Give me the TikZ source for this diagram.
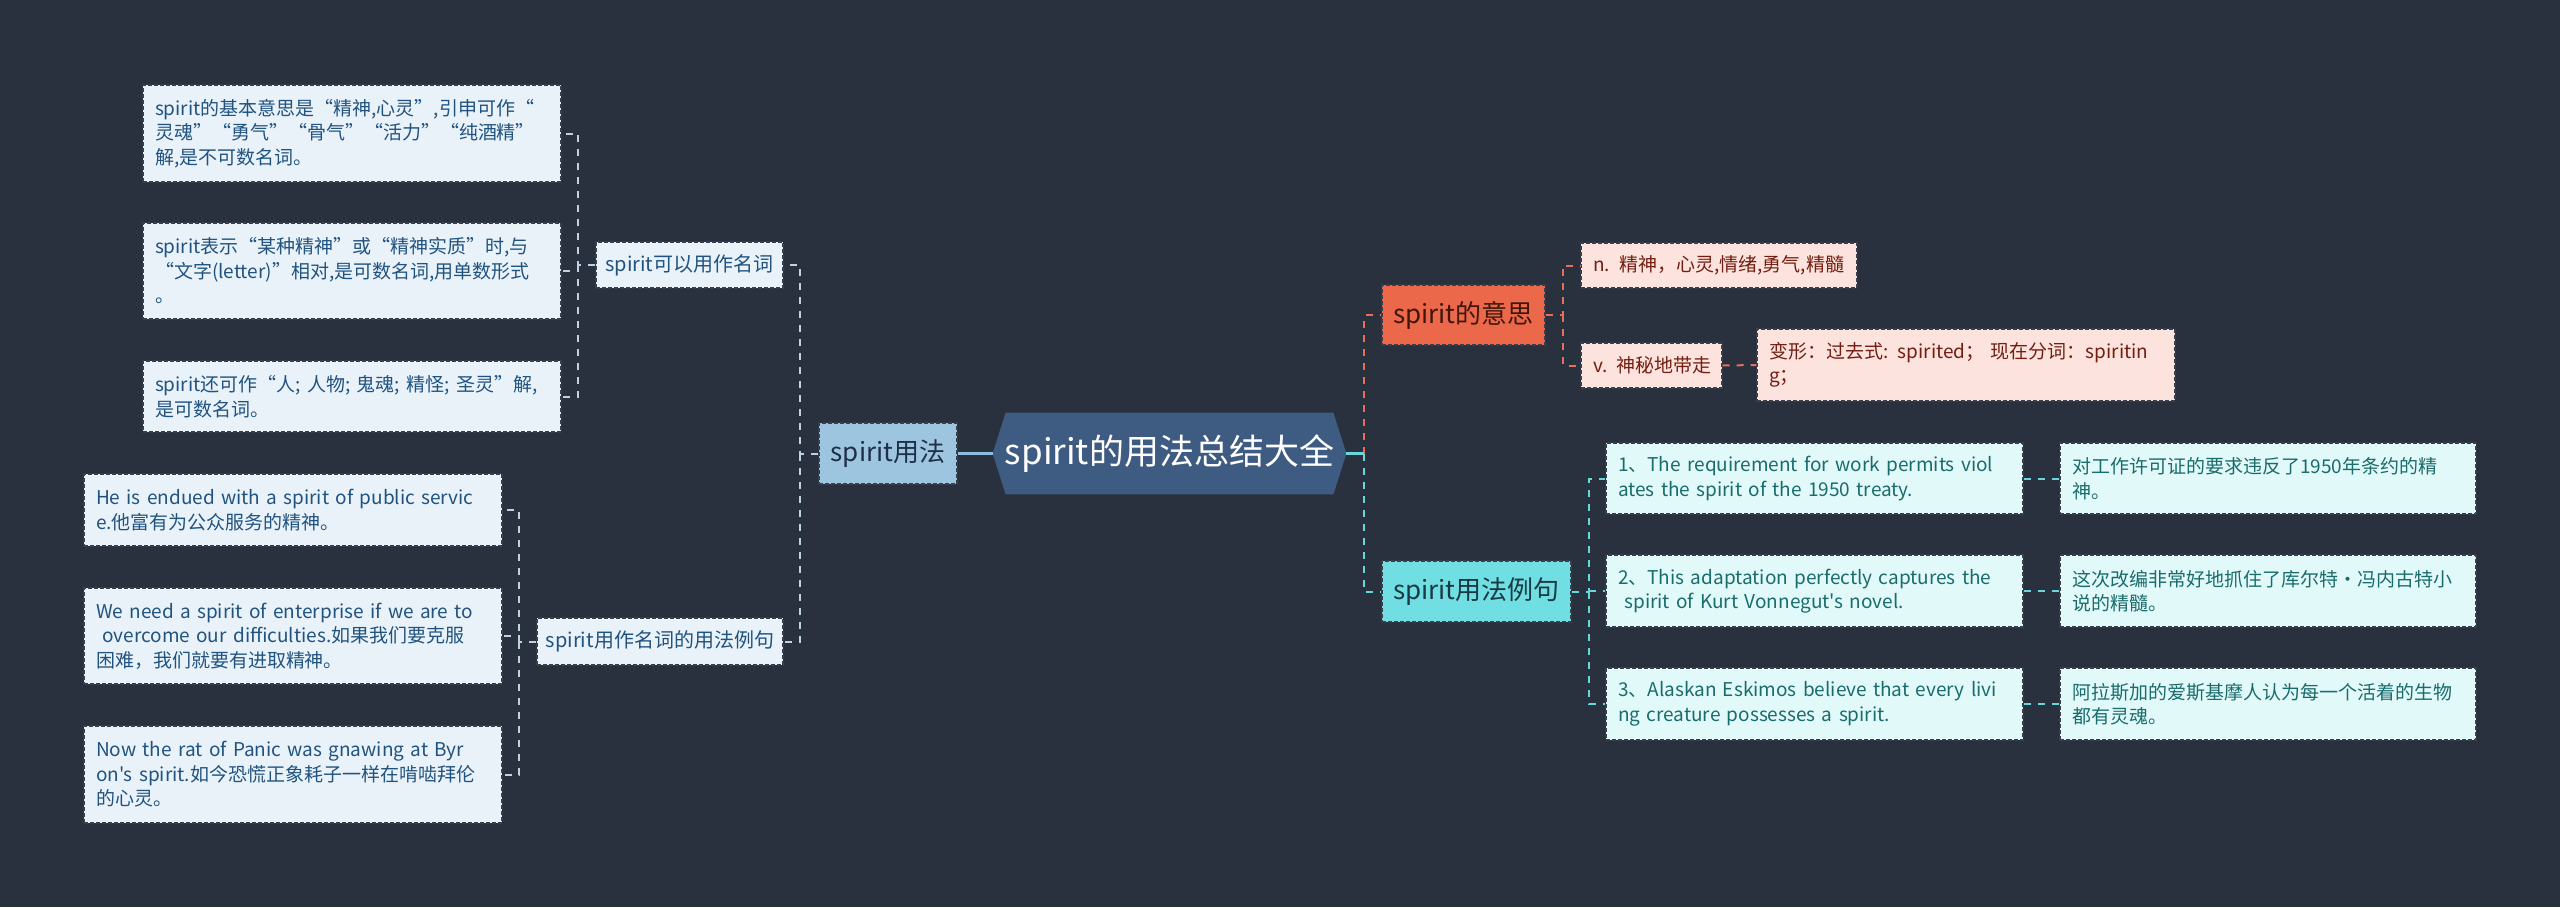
\documentclass[tikz,border=0pt]{standalone}
\usepackage{fontspec}
\setmainfont{Noto Sans CJK SC}[Ligatures=TeXOff]
\usetikzlibrary{calc}
\pgfdeclarelayer{bglayer}
\pgfsetlayers{bglayer,main}
\definecolor{bgc}{RGB}{41,48,62}
\definecolor{hexc}{RGB}{62,91,130}
\definecolor{ufill}{RGB}{158,197,224}
\definecolor{utext}{RGB}{30,48,72}
\definecolor{lfill}{RGB}{233,242,249}
\definecolor{ltext}{RGB}{33,83,128}
\definecolor{lconn}{RGB}{190,210,228}
\definecolor{bord}{RGB}{55,62,76}
\definecolor{ofill}{RGB}{236,104,74}
\definecolor{otext}{RGB}{64,22,12}
\definecolor{olfill}{RGB}{253,227,221}
\definecolor{oltext}{RGB}{115,30,18}
\definecolor{oconn}{RGB}{232,110,85}
\definecolor{cfill}{RGB}{112,222,226}
\definecolor{ctext}{RGB}{24,58,66}
\definecolor{clfill}{RGB}{226,249,249}
\definecolor{cltext}{RGB}{26,108,108}
\definecolor{cconn}{RGB}{105,214,218}
\definecolor{uconn}{RGB}{140,188,222}
\newcommand\leaffont{\fontsize{9.5}{12.25}\selectfont}
\newcommand\midfont{\fontsize{10}{12}\selectfont}
\newcommand\lvlfont{\fontsize{13}{15}\selectfont}
\newcommand\cenfont{\fontsize{17.5}{20}\selectfont}
\begin{document}
\begin{tikzpicture}[x=0.5pt,y=-0.5pt,
  box/.style={draw=bord, line width=0.6pt, dash pattern=on 2pt off 1pt, inner sep=0pt},
  leaf/.style={box, inner xsep=6pt, align=left, font=\leaffont},
  lleaf/.style={leaf, fill=lfill, text=ltext},
  oleaf/.style={leaf, fill=olfill, text=oltext},
  cleaf/.style={leaf, fill=clfill, text=cltext},
  mid/.style={box, fill=lfill, text=ltext, font=\midfont, align=center},
  lvl/.style={box, font=\lvlfont, align=center},
  conn/.style={line width=1pt, dash pattern=on 3.5pt off 3.5pt}]
\begin{pgfonlayer}{bglayer}
\fill[bgc] (0,0) rectangle (2560,907);
\end{pgfonlayer}
\useasboundingbox (0,0) rectangle (2560,907);

% bus coordinates
\coordinate (bL1) at (578,0);
\coordinate (bL2) at (519,0);
\coordinate (bU) at (800,0);
\coordinate (bR) at (1364,0);
\coordinate (bR1) at (1563,0);
\coordinate (bR2) at (1589,0);

% central
\node[minimum width=176.5pt, minimum height=40.5pt, inner sep=0pt, text=white, font=\cenfont] (C) at (1169.5,453.5) {spirit的用法总结大全};
\begin{pgfonlayer}{bglayer}
\fill[hexc] (C.west) -- ($(C.north west)+(13,0)$) -- ($(C.north east)+(-13,0)$) -- (C.east) -- ($(C.south east)+(-13,0)$) -- ($(C.south west)+(13,0)$) -- cycle;
\end{pgfonlayer}

% left branch
\node[lvl, fill=ufill, text=utext, minimum width=69pt, minimum height=30.5pt] (U) at (888,453.5) {spirit用法};
\node[mid, minimum width=93.5pt, minimum height=23pt] (M1) at (689.5,265) {spirit可以用作名词};
\node[mid, minimum width=123pt, minimum height=23.5pt] (M2) at (660,641.5) {spirit用作名词的用法例句};

\node[lleaf, text width=197pt, minimum height=48.5pt] (L1) at (352,133.5) {spirit的基本意思是“精神,心灵”,引申可作“\\灵魂”“勇气”“骨气”“活力”“纯酒精”\\解,是不可数名词。};
\node[lleaf, text width=197pt, minimum height=48pt] (L2) at (352,271) {spirit表示“某种精神”或“精神实质”时,与\\“文字(letter)”相对,是可数名词,用单数形式\\。};
\node[lleaf, text width=197pt, minimum height=35.5pt] (L3) at (352,396.5) {spirit还可作“人; 人物; 鬼魂; 精怪; 圣灵”解,\\是可数名词。};
\node[lleaf, text width=197pt, minimum height=36pt] (L4) at (293,510) {He is endued with a spirit of public servic\\e.他富有为公众服务的精神。};
\node[lleaf, text width=197pt, minimum height=48pt] (L5) at (293,636) {We need a spirit of enterprise if we are to\\\mbox{\ overcome our difficulties.如果我们要克服}\\困难，我们就要有进取精神。};
\node[lleaf, text width=197pt, minimum height=48.5pt] (L6) at (293,774.5) {Now the rat of Panic was gnawing at Byr\\on's spirit.如今恐慌正象耗子一样在啃啮拜伦\\的心灵。};

% right branch
\node[lvl, fill=ofill, text=otext, minimum width=81.5pt, minimum height=30pt] (R1) at (1463.5,315) {spirit的意思};
\node[oleaf, text width=126pt, minimum height=22.5pt] (R1a) at (1719,265.5) {\mbox{n. 精神，心灵,情绪,勇气,精髓}};
\node[oleaf, text width=58.5pt, minimum height=22.5pt] (R1b) at (1651.5,365.5) {\mbox{v. 神秘地带走}};
\node[oleaf, text width=197pt, minimum height=36pt] (R1c) at (1966,365) {变形：过去式: spirited； 现在分词：spiritin\\g；};

\node[lvl, fill=cfill, text=ctext, minimum width=94.5pt, minimum height=30.5pt] (R2) at (1476.5,591.5) {spirit用法例句};
\node[cleaf, text width=196.5pt, minimum height=35.5pt] (E1) at (1814.5,478.5) {1、The requirement for work permits viol\\ates the spirit of the 1950 treaty.};
\node[cleaf, text width=196pt, minimum height=35.5pt] (K1) at (2268,478.5) {对工作许可证的要求违反了1950年条约的精\\神。};
\node[cleaf, text width=196.5pt, minimum height=36pt] (E2) at (1814.5,591) {2、This adaptation perfectly captures the\\\mbox{\ spirit of Kurt Vonnegut's novel.}};
\node[cleaf, text width=196pt, minimum height=36pt] (K2) at (2268,591) {这次改编非常好地抓住了库尔特·冯内古特小\\说的精髓。};
\node[cleaf, text width=196.5pt, minimum height=36pt] (E3) at (1814.5,704) {3、Alaskan Eskimos believe that every livi\\ng creature possesses a spirit.};
\node[cleaf, text width=196pt, minimum height=36pt] (K3) at (2268,704) {阿拉斯加的爱斯基摩人认为每一个活着的生物\\都有灵魂。};

% connectors left
\draw[uconn, line width=1.3pt] (C.west) -- (U.east);
\draw[conn, lconn] (U.west) -- (U.west -| bU) |- (M1.east);
\draw[conn, lconn] (U.west -| bU) |- (M2.east);
\draw[conn, lconn] (M1.west) -- (M1.west -| bL1) |- (L1.east);
\draw[conn, lconn] (M1.west -| bL1) |- (L2.east);
\draw[conn, lconn] (M1.west -| bL1) |- (L3.east);
\draw[conn, lconn] (M2.west) -- (M2.west -| bL2) |- (L4.east);
\draw[conn, lconn] (M2.west -| bL2) |- (L5.east);
\draw[conn, lconn] (M2.west -| bL2) |- (L6.east);

% connectors right
\draw[conn, oconn] (C.east -| bR) |- (R1.west);
\draw[conn, cconn] (C.east -| bR) |- (R2.west);
\draw[cconn, line width=1.3pt] (C.east) -- (C.east -| bR);
\draw[conn, oconn] (R1.east) -- (R1.east -| bR1) |- (R1a.west);
\draw[conn, oconn] (R1.east -| bR1) |- (R1b.west);
\draw[conn, oconn] (R1b.east) -- (R1c.west);
\draw[conn, cconn] (R2.east) -- (R2.east -| bR2) |- (E1.west);
\draw[conn, cconn] (R2.east -| bR2) |- (E2.west);
\draw[conn, cconn] (R2.east -| bR2) |- (E3.west);
\draw[conn, cconn] (E1.east) -- (K1.west);
\draw[conn, cconn] (E2.east) -- (K2.west);
\draw[conn, cconn] (E3.east) -- (K3.west);
\end{tikzpicture}
\end{document}
